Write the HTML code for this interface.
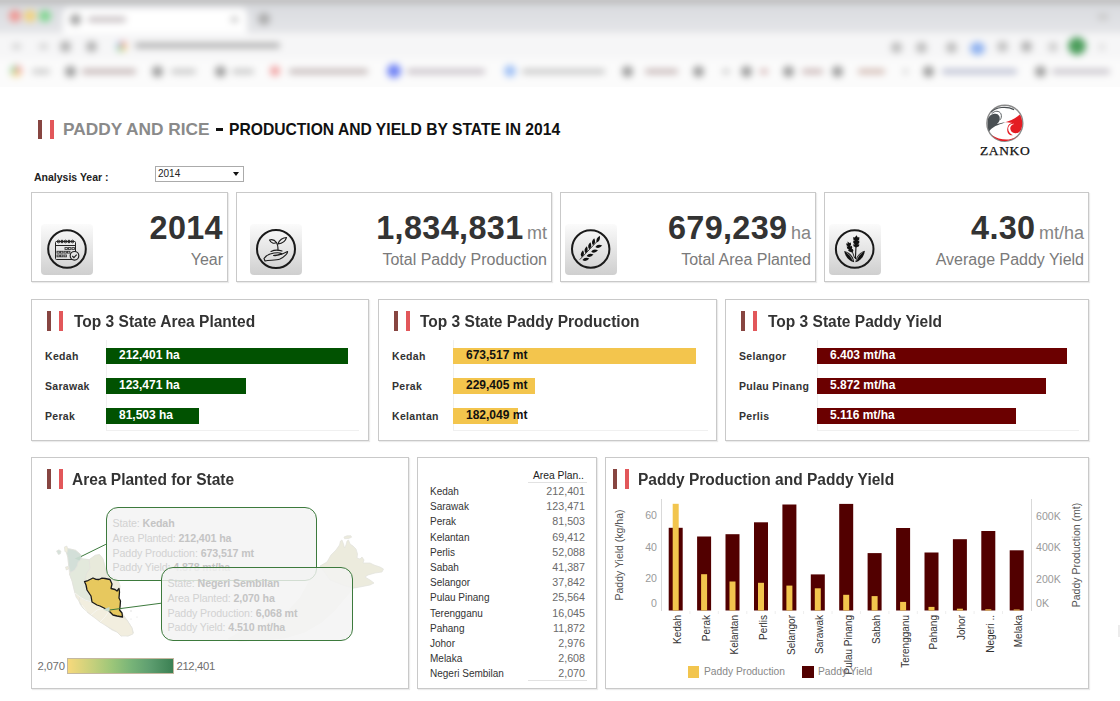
<!DOCTYPE html>
<html><head><meta charset="utf-8">
<style>
*{margin:0;padding:0;box-sizing:border-box}
html,body{width:1120px;height:701px;overflow:hidden;background:#fff;font-family:"Liberation Sans",sans-serif;position:relative}
.a{position:absolute}
.box{position:absolute;border:1px solid #c9c9c9;box-shadow:1px 1px 1px rgba(0,0,0,0.08);background:#fff}
.acc1{position:absolute;width:4px;background:#874541}
.acc2{position:absolute;width:4px;background:#e2575a}
.ttl{position:absolute;font-weight:bold;font-size:16px;color:#333;white-space:nowrap;line-height:1;transform:scaleX(0.97);transform-origin:0 0}
.num{position:absolute;font-weight:bold;font-size:32.4px;color:#333;letter-spacing:0.35px;white-space:nowrap;line-height:1;text-align:right}
.num span{font-weight:normal;font-size:18px;color:#858585;margin-left:3.5px;letter-spacing:0}
.sub{position:absolute;font-size:16px;color:#7a7a7a;white-space:nowrap;line-height:1;text-align:right}
.ico{position:absolute;width:52px;height:51px;border-radius:4px;background:linear-gradient(#fbfbfb,#cfcfcf)}
.lbl{position:absolute;font-weight:bold;font-size:10.5px;color:#333;white-space:nowrap;line-height:1}
.bar{position:absolute;height:15.5px}
.bt{position:absolute;font-weight:bold;font-size:12px;white-space:nowrap;line-height:1}
#chrome{position:absolute;left:0;top:0;width:1120px;height:87px;overflow:hidden;background:#fff}
#chrome .in{position:absolute;left:0;top:0;width:1120px;height:90px;filter:blur(3.6px)}
.g{position:absolute;background:#9a9a9a;border-radius:50%}
.t{position:absolute;background:#c4c4c4;height:5px;border-radius:2px}
.tip{border:1.2px solid #3d7a3d;border-radius:12px;background:rgba(243,243,243,0.82);padding:8px 0 0 5.5px;font-size:10.65px;line-height:14.8px;color:#d2d2d2;white-space:nowrap;letter-spacing:-0.1px}
.tip b{color:#c4c4c4}
.tbl{width:155px;font-size:10px;line-height:15.2px;color:#333}
.tbl div{position:relative;height:15.2px;white-space:nowrap}
.tbl i{font-style:normal;position:absolute;right:0;top:0;color:#6a6a6a;font-size:10.7px}
.lbl{letter-spacing:0.3px}
.ax{position:absolute;font-size:10.6px;color:#9a9a9a;line-height:12px;white-space:nowrap}
.axt{position:absolute;font-size:10.5px;color:#555;line-height:12px;white-space:nowrap;transform:translate(-50%,-50%) rotate(-90deg)}
.xl{position:absolute;font-size:10px;color:#333;line-height:12px;white-space:nowrap;transform-origin:0 0;transform:rotate(-90deg) translate(-100%,-6px)}
.lg{font-size:10.25px;color:#888;line-height:12px;white-space:nowrap}
</style></head><body>

<div id="chrome"><div class="in">
  <div class="a" style="left:-10px;top:-5px;width:1140px;height:9px;background:#bdbdbd"></div>
  <div class="a" style="left:-10px;top:4px;width:1140px;height:29px;background:linear-gradient(#d9dbdf,#e4e5e8)"></div>
  <div class="a" style="left:63px;top:8px;width:184px;height:27px;background:#fff;border-radius:6px 6px 0 0"></div>
  <div class="a" style="left:-10px;top:33px;width:1140px;height:26px;background:#f6f6f7"></div>
  <div class="a" style="left:-10px;top:59px;width:1140px;height:40px;background:#fbfbfb"></div>
  
  <!-- traffic lights -->
  <div class="g" style="left:9px;top:10px;width:12px;height:12px;background:#f09590"></div>
  <div class="g" style="left:24px;top:10px;width:12px;height:12px;background:#f2d27a"></div>
  <div class="g" style="left:39px;top:10px;width:12px;height:12px;background:#7fd68f"></div>
  <div class="g" style="left:70px;top:14px;width:11px;height:11px;background:#a0a0a0"></div>
  <div class="t" style="left:88px;top:17px;width:38px;background:#c0b8bb"></div>
  <div class="t" style="left:231px;top:17px;width:7px;background:#bbb"></div>
  <div class="g" style="left:258px;top:13px;width:12px;height:12px;background:#aaa"></div>
  <div class="a" style="left:1098px;top:14px;width:10px;height:6px;background:#c8c8c8"></div>
  <!-- toolbar -->
  <div class="t" style="left:12px;top:44px;width:9px;background:#ccc"></div>
  <div class="t" style="left:39px;top:44px;width:9px;background:#ccc"></div>
  <div class="g" style="left:60px;top:41px;width:11px;height:11px;background:#b0b0b0"></div>
  <div class="g" style="left:86px;top:41px;width:11px;height:11px;background:#b0b0b0"></div>
  <div class="g" style="left:116px;top:41px;width:11px;height:11px;background:conic-gradient(#ee9a90 0 25%,#f5dc90 0 50%,#9ed4a8 0 75%,#a9c4ee 0)"></div>
  <div class="t" style="left:135px;top:43px;width:145px;background:#a8a8a8"></div>
  <div class="g" style="left:891px;top:42px;width:11px;height:11px;background:#bbb"></div>
  <div class="g" style="left:916px;top:42px;width:11px;height:11px;background:#bbb"></div>
  <div class="g" style="left:946px;top:42px;width:11px;height:11px;background:#bbb"></div>
  <div class="g" style="left:970px;top:42px;width:15px;height:13px;background:#8fb2f0"></div>
  <div class="g" style="left:997px;top:41px;width:11px;height:11px;background:#c0c0c0"></div>
  <div class="g" style="left:1021px;top:41px;width:11px;height:11px;background:#b0b0b0"></div>
  <div class="g" style="left:1048px;top:42px;width:10px;height:10px;background:#ccc"></div>
  <div class="g" style="left:1068px;top:37px;width:18px;height:18px;background:#4c9e5c"></div>
  <div class="g" style="left:1099px;top:43px;width:6px;height:8px;background:#ddd"></div>
  <!-- bookmarks -->
  <div class="g" style="left:10px;top:65px;width:12px;height:12px;background:conic-gradient(#f2a0a0 0 33%,#f5d890 0 66%,#a0d8a8 0)"></div>
  <div class="t" style="left:32px;top:69px;width:18px;background:#c8c8c8"></div>
  <div class="g" style="left:65px;top:66px;width:11px;height:11px;background:#999"></div>
  <div class="t" style="left:82px;top:69px;width:54px;background:#c0b0b0"></div>
  <div class="g" style="left:152px;top:66px;width:11px;height:11px;background:#999"></div>
  <div class="t" style="left:171px;top:69px;width:25px;background:#c4c4c4"></div>
  <div class="g" style="left:215px;top:66px;width:11px;height:11px;background:#999"></div>
  <div class="t" style="left:232px;top:69px;width:22px;background:#c4c4c4"></div>
  <div class="g" style="left:270px;top:66px;width:10px;height:10px;background:#f0a0a0"></div>
  <div class="t" style="left:289px;top:69px;width:79px;background:#c0b4b4"></div>
  <div class="g" style="left:387px;top:64px;width:14px;height:14px;background:#7083f5"></div>
  <div class="t" style="left:407px;top:69px;width:78px;background:#c4bcc4"></div>
  <div class="g" style="left:504px;top:65px;width:12px;height:12px;background:#9fc0f5"></div>
  <div class="t" style="left:522px;top:69px;width:83px;background:#c4c4c4"></div>
  <div class="g" style="left:622px;top:66px;width:11px;height:11px;background:#999"></div>
  <div class="t" style="left:645px;top:69px;width:33px;background:#c4b4b4"></div>
  <div class="g" style="left:693px;top:66px;width:11px;height:11px;background:#999"></div>
  <div class="t" style="left:722px;top:69px;width:8px;background:#ccc"></div>
  <div class="g" style="left:741px;top:66px;width:11px;height:11px;background:#999"></div>
  <div class="t" style="left:760px;top:69px;width:8px;background:#d0b0b0"></div>
  <div class="g" style="left:783px;top:66px;width:11px;height:11px;background:#999"></div>
  <div class="t" style="left:802px;top:69px;width:21px;background:#c8b4b4"></div>
  <div class="g" style="left:832px;top:66px;width:11px;height:11px;background:#999"></div>
  <div class="t" style="left:858px;top:69px;width:27px;background:#d0b8b0"></div>
  <div class="t" style="left:903px;top:69px;width:5px;background:#ccc"></div>
  <div class="g" style="left:923px;top:66px;width:11px;height:11px;background:#999"></div>
  <div class="t" style="left:942px;top:69px;width:75px;background:#b8bcd0"></div>
  <div class="g" style="left:1035px;top:66px;width:11px;height:11px;background:#999"></div>
  <div class="t" style="left:1052px;top:69px;width:58px;background:#c4c0c8"></div>
</div></div>

<div class="a" style="left:1118px;top:625px;width:2px;height:12px;background:#ececec;filter:blur(0.6px)"></div>
<!-- header -->
<div class="acc1" style="left:38px;top:120px;height:19px"></div>
<div class="acc2" style="left:50px;top:120px;height:19px"></div>
<div class="a" style="left:63px;top:121px;font-weight:bold;font-size:17.3px;color:#8a8a8a;white-space:nowrap;line-height:1">PADDY AND RICE</div>
<div class="a" style="left:216px;top:128px;width:7px;height:3px;background:#111"></div>
<div class="a" style="left:229px;top:121.5px;font-weight:bold;font-size:15.65px;color:#111;white-space:nowrap;line-height:1">PRODUCTION AND YIELD BY STATE IN 2014</div>

<div class="a" style="left:34px;top:172px;font-weight:bold;font-size:10.5px;color:#222;white-space:nowrap;line-height:1">Analysis Year :</div>
<div class="a" style="left:155px;top:166px;width:89px;height:16px;border:1px solid #ababab;background:#fff"></div>
<div class="a" style="left:158px;top:168.5px;font-size:10px;color:#222;line-height:1">2014</div>
<div class="a" style="left:233px;top:172px;width:0;height:0;border-left:3px solid transparent;border-right:3px solid transparent;border-top:4px solid #111"></div>

<!-- logo -->
<svg class="a" style="left:982px;top:100px" width="45" height="45" viewBox="0 0 701 701">
 <circle cx="356" cy="362" r="280" fill="#fff" stroke="#8a8a8a" stroke-width="22"/>
 <path d="M140,190 C220,110 380,90 500,150" fill="none" stroke="#4a4f52" stroke-width="18"/>
 <path d="M150,215 C200,160 270,165 295,215 C310,250 300,290 280,310" fill="none" stroke="#4a4f52" stroke-width="14"/>
 <path d="M92,300 C110,240 160,215 210,215 C260,218 285,260 275,310 C268,340 245,360 232,372 C280,360 320,350 362,345 C300,372 250,385 210,405 C170,425 130,460 108,492 C88,440 82,360 92,300 Z" fill="#4a5053"/>
 <path d="M362,345 C430,335 520,290 590,225 C630,290 640,380 610,460 C590,500 560,520 520,518 C470,515 440,480 440,440 C440,400 470,380 500,372 C450,370 420,395 410,430 C400,480 430,530 480,550 C400,560 380,480 400,420 C410,390 430,365 470,355 C430,350 400,350 362,345 Z" fill="#e41c23"/>
 <path d="M150,545 C230,600 330,625 420,615 C490,605 540,580 570,545 C520,600 440,640 350,640 C270,640 200,600 150,545 Z" fill="#e41c23"/>
</svg>
<div class="a" style="left:980px;top:144px;font-family:'Liberation Serif',serif;font-size:13.5px;color:#111;line-height:1;letter-spacing:0.6px;-webkit-text-stroke:0.25px #111">ZANKO</div>

<!-- KPI boxes -->
<div class="box" style="left:31px;top:192px;width:197px;height:90px"></div>
<div class="box" style="left:236px;top:192px;width:316px;height:90px"></div>
<div class="box" style="left:560px;top:192px;width:256px;height:90px"></div>
<div class="box" style="left:824px;top:192px;width:265px;height:90px"></div>

<div class="ico" style="left:41px;top:224px"></div>
<div class="ico" style="left:250px;top:224px"></div>
<div class="ico" style="left:565px;top:224px"></div>
<div class="ico" style="left:829px;top:224px"></div>

<div class="num" style="right:897px;top:211.8px">2014</div>
<div class="sub" style="right:897px;top:251.5px">Year</div>
<div class="num" style="right:573px;top:211.8px">1,834,831<span>mt</span></div>
<div class="sub" style="right:573px;top:251.5px">Total Paddy Production</div>
<div class="num" style="right:309px;top:211.8px">679,239<span>ha</span></div>
<div class="sub" style="right:309px;top:251.5px">Total Area Planted</div>
<div class="num" style="right:36px;top:211.8px">4.30<span>mt/ha</span></div>
<div class="sub" style="right:36px;top:251.5px">Average Paddy Yield</div>


<svg class="a" style="left:41px;top:224px" width="52" height="51" viewBox="41 224 52 51">
 <circle cx="67" cy="249" r="18.8" fill="none" stroke="#1a1a1a" stroke-width="2"/>
 <g fill="none" stroke="#222" stroke-width="1">
  <rect x="55.5" y="241.5" width="20" height="18" rx="1"/>
  <line x1="55.5" y1="245.5" x2="75.5" y2="245.5"/>
  <circle cx="58.5" cy="241.5" r="1.3"/><circle cx="62" cy="241.5" r="1.3"/><circle cx="65.5" cy="241.5" r="1.3"/><circle cx="69" cy="241.5" r="1.3"/><circle cx="72.5" cy="241.5" r="1.3"/>
 </g>
 <g fill="none" stroke="#333" stroke-width="0.9">
  <rect x="65" y="247.6" width="2.4" height="1.8"/><rect x="68.5" y="247.6" width="2.4" height="1.8"/><rect x="72" y="247.6" width="2.4" height="1.8"/>
  <rect x="57" y="251.3" width="2.4" height="1.8"/><rect x="60.5" y="251.3" width="2.4" height="1.8"/><rect x="64" y="251.3" width="2.4" height="1.8"/><rect x="67.5" y="251.3" width="2.4" height="1.8"/>
  <rect x="57" y="255" width="2.4" height="1.8"/><rect x="60.5" y="255" width="2.4" height="1.8"/><rect x="64" y="255" width="2.4" height="1.8"/>
 </g>
 <circle cx="74.5" cy="255.8" r="4.3" fill="#e6e6e6" stroke="#222" stroke-width="1.2"/>
 <path d="M72.3,256 l1.6,1.6 2.8,-3" fill="none" stroke="#222" stroke-width="1.2"/>
</svg>
<svg class="a" style="left:250px;top:224px" width="52" height="51" viewBox="250 224 52 51">
 <circle cx="276" cy="249" r="19" fill="none" stroke="#1a1a1a" stroke-width="2"/>
 <g fill="none" stroke="#1a1a1a" stroke-width="1.1" stroke-linejoin="round" stroke-linecap="round">
  <path d="M278,250 C278,246 277.5,244 276.5,242.5"/>
  <path d="M276.5,242.5 C274,239 271,239.5 269.5,240 C271,243 274,244 276.5,242.5 Z"/>
  <path d="M278,244 C279,240 283,237.5 286.5,237.5 C285.5,241 282,243.5 278,244 Z"/>
  <path d="M264,258.5 C266,255.5 270,253.5 274,253 C277,252.6 280,252.6 281.5,253.5 C280,255 276,255.2 273.5,255.5 C277,256 282,254.5 287.5,251.5 C288,253 285,256.5 280,259 C276,260.5 270,260 265,261 Z"/>
  <path d="M271,251.5 C274,250 279,250 282,251"/>
 </g>
</svg>
<svg class="a" style="left:565px;top:224px" width="52" height="51" viewBox="565 224 52 51">
 <circle cx="590.7" cy="249" r="18.7" fill="none" stroke="#1a1a1a" stroke-width="2"/>
 <path d="M579.8,259.6 L597.5,241" stroke="#111" stroke-width="0.8"/>
 <g fill="#111"><path d="M581.79,257.05 Q585.40,254.74 583.01,250.15 Q579.19,253.64 581.79,257.05 Z"/><path d="M585.59,253.25 Q589.20,250.94 586.81,246.35 Q582.99,249.84 585.59,253.25 Z"/><path d="M589.19,249.25 Q592.80,246.94 590.41,242.35 Q586.59,245.84 589.19,249.25 Z"/><path d="M592.99,245.25 Q596.60,242.94 594.21,238.35 Q590.39,241.84 592.99,245.25 Z"/><path d="M596.74,242.55 Q600.77,241.01 599.86,235.85 Q595.33,238.48 596.74,242.55 Z"/><path d="M582.48,259.93 Q585.97,262.41 589.32,258.47 Q584.66,256.24 582.48,259.93 Z"/><path d="M586.68,255.93 Q590.17,258.41 593.52,254.47 Q588.86,252.24 586.68,255.93 Z"/><path d="M591.18,251.83 Q594.67,254.31 598.02,250.37 Q593.36,248.14 591.18,251.83 Z"/><path d="M595.38,246.93 Q598.87,249.41 602.22,245.47 Q597.56,243.24 595.38,246.93 Z"/></g>
</svg>
<svg class="a" style="left:829px;top:224px" width="52" height="51" viewBox="829 224 52 51">
 <circle cx="854.7" cy="249" r="18.8" fill="none" stroke="#1a1a1a" stroke-width="2"/>
 <g fill="#111">
  <path d="M844.2,251 C849.5,252 853.5,256 854.2,262.3 C849,261 845,256.5 844.2,251 Z"/>
  <path d="M864.9,250.7 C860,252 856,256 855.4,262.3 C860.5,261 864.2,256.5 864.9,250.7 Z"/>
  <path d="M856,246 L855.4,259" stroke="#111" stroke-width="1.1" fill="none"/>
  <path d="M851,248 L854.6,258" stroke="#111" stroke-width="0.9" fill="none"/>
  <path d="M856.5,235.3 L857.8,237.5 859.3,237 859.3,239.5 857.5,241 859.3,240.6 859.3,243 857.5,244.5 859.3,244.2 859,246.3 856.2,247.5 853.5,246.3 853.3,244.2 855,244.5 853.3,243 853.3,240.6 855,241 853.3,239.5 853.3,237 854.8,237.5 Z"/>
  <path d="M847.6,241.5 l1.8,1.4 1.4,-0.3 0.3,2.2 -1.2,1.6 1.8,-0.7 0.6,2.2 -1.2,1.6 1.8,-0.6 0.5,2 -1.5,1.5 -2.6,-0.8 -1.5,-1.6 1.3,-0.2 -1.9,-1.3 -0.5,-2.2 1.6,0.5 -1.8,-1.5 -0.3,-2.1 1.4,0.5 z"/>
 </g>
 <path d="M846.5,252.5 C849.5,254.5 851.5,257 852.8,260.5" stroke="#ddd" stroke-width="0.6" fill="none"/>
 <path d="M862.6,252.2 C859.6,254.5 857.6,257 856.5,260.5" stroke="#ddd" stroke-width="0.6" fill="none"/>
</svg>

<!-- Top 3 boxes -->
<div class="box" style="left:31px;top:299px;width:338px;height:142px"></div>
<div class="box" style="left:378px;top:299px;width:339px;height:142px"></div>
<div class="box" style="left:725px;top:299px;width:364px;height:142px"></div>

<div class="acc1" style="left:47px;top:311px;height:20px"></div>
<div class="acc2" style="left:59px;top:311px;height:20px"></div>
<div class="ttl" style="left:74px;top:314px">Top 3 State Area Planted</div>
<div class="a" style="left:106px;top:340px;width:1px;height:91px;background:#f0f0f0"></div>
<div class="a" style="left:106px;top:430px;width:253px;height:1px;background:#f0f0f0"></div>
<div class="lbl" style="left:45px;top:351px">Kedah</div>
<div class="lbl" style="left:45px;top:381px">Sarawak</div>
<div class="lbl" style="left:45px;top:411px">Perak</div>
<div class="bar" style="left:106px;top:348px;width:242px;background:#015201"></div>
<div class="bar" style="left:106px;top:378px;width:140px;background:#015201"></div>
<div class="bar" style="left:106px;top:408px;width:93px;background:#015201"></div>
<div class="bt" style="left:119px;top:349px;color:#fff">212,401 ha</div>
<div class="bt" style="left:119px;top:379px;color:#fff">123,471 ha</div>
<div class="bt" style="left:119px;top:409px;color:#fff">81,503 ha</div>

<div class="acc1" style="left:394px;top:311px;height:20px"></div>
<div class="acc2" style="left:406px;top:311px;height:20px"></div>
<div class="ttl" style="left:420px;top:314px">Top 3 State Paddy Production</div>
<div class="a" style="left:453px;top:340px;width:1px;height:91px;background:#f0f0f0"></div>
<div class="a" style="left:453px;top:430px;width:255px;height:1px;background:#f0f0f0"></div>
<div class="lbl" style="left:392px;top:351px">Kedah</div>
<div class="lbl" style="left:392px;top:381px">Perak</div>
<div class="lbl" style="left:392px;top:411px">Kelantan</div>
<div class="bar" style="left:453px;top:348px;width:243px;background:#f3c54d"></div>
<div class="bar" style="left:453px;top:378px;width:82px;background:#f3c54d"></div>
<div class="bar" style="left:453px;top:408px;width:65px;background:#f3c54d"></div>
<div class="bt" style="left:466px;top:349px;color:#111">673,517 mt</div>
<div class="bt" style="left:466px;top:379px;color:#111">229,405 mt</div>
<div class="bt" style="left:466px;top:409px;color:#111">182,049 mt</div>

<div class="acc1" style="left:741px;top:311px;height:20px"></div>
<div class="acc2" style="left:753px;top:311px;height:20px"></div>
<div class="ttl" style="left:768px;top:314px">Top 3 State Paddy Yield</div>
<div class="a" style="left:817px;top:340px;width:1px;height:91px;background:#f0f0f0"></div>
<div class="a" style="left:817px;top:430px;width:262px;height:1px;background:#f0f0f0"></div>
<div class="lbl" style="left:739px;top:351px">Selangor</div>
<div class="lbl" style="left:739px;top:381px">Pulau Pinang</div>
<div class="lbl" style="left:739px;top:411px">Perlis</div>
<div class="bar" style="left:817px;top:348px;width:250px;background:#6b0000"></div>
<div class="bar" style="left:817px;top:378px;width:229px;background:#6b0000"></div>
<div class="bar" style="left:817px;top:408px;width:199px;background:#6b0000"></div>
<div class="bt" style="left:830px;top:349px;color:#fff">6.403 mt/ha</div>
<div class="bt" style="left:830px;top:379px;color:#fff">5.872 mt/ha</div>
<div class="bt" style="left:830px;top:409px;color:#fff">5.116 mt/ha</div>

<!-- bottom row -->
<div class="box" style="left:31px;top:457px;width:378px;height:232px"></div>
<div class="box" style="left:417px;top:457px;width:180px;height:232px"></div>
<div class="box" style="left:605px;top:457px;width:484px;height:232px"></div>

<div class="acc1" style="left:47px;top:469px;height:20px"></div>
<div class="acc2" style="left:59px;top:469px;height:20px"></div>
<div class="ttl" style="left:72px;top:472.2px">Area Planted for State</div>

<svg class="a" style="left:31px;top:457px" width="378" height="232" viewBox="31 457 378 232">
 <g stroke="#e2e2dc" stroke-width="0.7" stroke-linejoin="round">
  <path d="M65.3,548.6 L70,549 L75.5,550.3 L80.7,554.6 L81.5,558.8 L89.2,559.7 L95.2,555.4 L99.5,554.6 L102.9,558.8 L104.7,565.7 L106.4,574.2 L110.7,577.5 L114,577 L118.5,581 L120.2,586 L119.5,592 L119,598 L120.5,601 L120,607 L122,613 L127,620 L132,628 L133.5,633 L131,634.5 L128,636 L124,635 L121,636 L117,632 L112,630 L108,627 L104,623.5 L100,622 L96,618 L91,615 L87,612 L83,608 L80,604 L79,601 L76,597 L75,593 L73.5,587 L72.1,581.1 L69.6,574.2 L68.7,565.7 L67.8,557.1 Z" fill="#efecdd"/>
  <path d="M92,602 L97,605 L104,608 L109,611 L113,615 L117,616 L122.5,617 L127,620 L132,628 L133,634 L128,636 L121,636 L117,632 L108,627 L100,622 L91,615 L83,608 L79,601 L80,597 L85,600 Z" fill="#f2eedf"/>
  <path d="M70.4,572.5 L74.7,570 L77.3,565.7 L78.1,562.3 L81.5,558.8 L89.2,559.7 L90.1,568.3 L86.7,573.4 L84.5,581.5 L86,585 L87,590 L91,596 L92,602 L85,600 L80,597 L75,593 L72.1,581.1 L69.6,574.2 Z" fill="#e3e9dc"/>
  <path d="M89.2,559.7 L95.2,555.4 L99.5,554.6 L102.9,558.8 L104.7,565.7 L106.4,574.2 L110.7,580.2 L110,579.5 L105,578.5 L99,579.5 L93,578 L91,579 L84.5,581.5 L86.7,573.4 L90.1,568.3 Z" fill="#e8eadb"/>
  <path d="M65.3,548.6 L70,549 L75.5,550.3 L80.7,554.6 L81.5,558.8 L78.1,562.3 L77.3,565.7 L74.7,570 L70.4,572.5 L68.7,565.7 L67.8,557.1 Z" fill="#d3dfd8"/>
  <path d="M56.5,551 l2.5,-1.2 2,1.5 -0.8,2.6 -1.8,0.6 z" fill="#d6e1da"/>
  <path d="M64.4,547 l2.4,-1 1,3 -0.6,3.5 -2.3,-1 z" fill="#f0eedc"/>
  <path d="M65.5,567 l2.5,-0.5 0.7,2.5 -2.3,1 z" fill="#efecdc"/>
  <path d="M75,593 L80,597 85,600 92,602 M91,615 L97,610 104,608 M100,622 L105,617 109,611 M87,612 L82,605" fill="none" stroke="#f7f7f2" stroke-width="0.8"/>
  <path d="M319.9,567 L330,580 345,586 353.8,588 345,598 335,610 322,622 305,632 285,638 262,640 240,641 228,639 240,632 262,626 285,614 300,598 310,580 Z" fill="#f5f4ee" stroke="#efefe9"/>
  <path d="M320,566 L327,562 L331,555 L336,550 L339.5,545 L340.5,541 L342,540 L343.5,544 L344.5,548 L346,545 L347,541 L348.5,540 L350,544 L353,546 L356,549 L357.5,554 L357,558 L360,559 L362,557 L364,560 L363,563 L370,563 L374,565 L380,567 L383.5,569 L382,572 L375,573 L368,575 L365,577 L370,580 L374,583 L370,585 L360,587 L354,588 L345,586 L330,580 Z" fill="#ecebdd"/><path d="M344,537 l3,-1.2 4,0 0.5,1.5 -3,1.2 -4,0.2 z" fill="#ecebdd"/>
 </g>
 <circle cx="131" cy="611" r="0.8" fill="#ddd"/><circle cx="137" cy="617" r="0.6" fill="#ddd"/><circle cx="131" cy="619" r="0.6" fill="#ddd"/>
 <path d="M84.5,581.5 L88,580.5 L91,579 L93,578 L96,579.3 L99,579.5 L102,578.2 L105,578.5 L110,579.5 L112,584 L111,588.5 L115,589.5 L117,591 L119,588.5 L119.5,592 L119,598 L120.5,601 L120,607 L119.5,610 L122,613 L122.5,617 L117,616 L113,615 L109,611 L104,608 L100,606 L97,605 L92,602 L91,596 L87,590 L86,585 Z" fill="#e7c85e" stroke="#1a1a1a" stroke-width="1.3" stroke-linejoin="round"/>
 <path d="M80.7,556.7 L105.9,544.3" stroke="#3d7a3d" stroke-width="1" fill="none"/>
 <path d="M109.5,610 L161.3,603.2" stroke="#3d7a3d" stroke-width="1" fill="none"/>
 <path d="M74.7,558.5 L81.5,555.5 79.5,560.5 Z" fill="#c5d9cc"/>
 <path d="M103,609.5 L109.5,607 109.5,612 Z" fill="#c5d9cc"/>
</svg>

<div class="a tip" style="left:106px;top:507px;width:211px;height:74px">
  <div><span>State: </span><b>Kedah</b></div>
  <div><span>Area Planted: </span><b>212,401 ha</b></div>
  <div><span>Paddy Production: </span><b>673,517 mt</b></div>
  <div><span>Paddy Yield: </span><b>4.878 mt/ha</b></div>
</div>
<div class="a tip" style="left:161px;top:567px;width:192px;height:74px">
  <div><span>State: </span><b>Negeri Sembilan</b></div>
  <div><span>Area Planted: </span><b>2,070 ha</b></div>
  <div><span>Paddy Production: </span><b>6,068 mt</b></div>
  <div><span>Paddy Yield: </span><b>4.510 mt/ha</b></div>
</div>

<div class="a" style="left:37.5px;top:660.5px;font-size:11.3px;color:#6e6e6e;line-height:1;letter-spacing:-0.2px">2,070</div>
<div class="a" style="left:67px;top:658px;width:107px;height:16px;border:1px solid #c4b8a0;background:linear-gradient(90deg,#f7d97c,#c2cf7c 25%,#9cc679 42%,#78b478 60%,#5e9e70 78%,#3b8053)"></div>
<div class="a" style="left:176.5px;top:660.5px;font-size:11.3px;color:#6e6e6e;line-height:1;letter-spacing:-0.35px">212,401</div>

<!-- table -->
<div class="a" style="left:533px;top:471px;font-size:10.3px;color:#222;line-height:1">Area Plan..</div>
<div class="a" style="left:528px;top:482px;width:59px;height:1px;background:#e2e2e2"></div>
<div class="a" style="left:528px;top:680px;width:59px;height:1px;background:#e2e2e2"></div>
<div class="a tbl" style="left:430px;top:484px">
<div>Kedah<i>212,401</i></div><div>Sarawak<i>123,471</i></div><div>Perak<i>81,503</i></div><div>Kelantan<i>69,412</i></div><div>Perlis<i>52,088</i></div><div>Sabah<i>41,387</i></div><div>Selangor<i>37,842</i></div><div>Pulau Pinang<i>25,564</i></div><div>Terengganu<i>16,045</i></div><div>Pahang<i>11,872</i></div><div>Johor<i>2,976</i></div><div>Melaka<i>2,608</i></div><div>Negeri Sembilan<i>2,070</i></div>
</div>
<div class="acc1" style="left:613px;top:469px;height:20px"></div>
<div class="acc2" style="left:625px;top:469px;height:20px"></div>
<div class="ttl" style="left:638px;top:472.4px">Paddy Production and Paddy Yield</div>
<svg class="a" style="left:605px;top:457px" width="484" height="232" viewBox="605 457 484 232">
<line x1="661.5" y1="499" x2="661.5" y2="611" stroke="#d9d9d9" stroke-width="1"/>
<line x1="1031.5" y1="499" x2="1031.5" y2="611" stroke="#d9d9d9" stroke-width="1"/>
<rect x="668.7" y="527.8" width="14" height="82.7" fill="#520000"/>
<rect x="672.7" y="503.8" width="6" height="106.7" fill="#f2c54e"/>
<rect x="697.1" y="536.5" width="14" height="74.0" fill="#520000"/>
<rect x="701.1" y="574.2" width="6" height="36.3" fill="#f2c54e"/>
<line x1="689.9" y1="611" x2="689.9" y2="614" stroke="#eeeeee" stroke-width="1"/>
<rect x="725.5" y="534.2" width="14" height="76.3" fill="#520000"/>
<rect x="729.5" y="581.5" width="6" height="29.0" fill="#f2c54e"/>
<line x1="718.3" y1="611" x2="718.3" y2="614" stroke="#eeeeee" stroke-width="1"/>
<rect x="754.0" y="522.3" width="14" height="88.2" fill="#520000"/>
<rect x="758.0" y="582.8" width="6" height="27.7" fill="#f2c54e"/>
<line x1="746.8" y1="611" x2="746.8" y2="614" stroke="#eeeeee" stroke-width="1"/>
<rect x="782.4" y="504.5" width="14" height="106.0" fill="#520000"/>
<rect x="786.4" y="585.6" width="6" height="24.9" fill="#f2c54e"/>
<line x1="775.2" y1="611" x2="775.2" y2="614" stroke="#eeeeee" stroke-width="1"/>
<rect x="810.8" y="574.4" width="14" height="36.1" fill="#520000"/>
<rect x="814.8" y="588.3" width="6" height="22.2" fill="#f2c54e"/>
<line x1="803.6" y1="611" x2="803.6" y2="614" stroke="#eeeeee" stroke-width="1"/>
<rect x="839.2" y="503.9" width="14" height="106.6" fill="#520000"/>
<rect x="843.2" y="594.8" width="6" height="15.7" fill="#f2c54e"/>
<line x1="832.0" y1="611" x2="832.0" y2="614" stroke="#eeeeee" stroke-width="1"/>
<rect x="867.6" y="553.1" width="14" height="57.4" fill="#520000"/>
<rect x="871.6" y="596.1" width="6" height="14.4" fill="#f2c54e"/>
<line x1="860.4" y1="611" x2="860.4" y2="614" stroke="#eeeeee" stroke-width="1"/>
<rect x="896.1" y="528.0" width="14" height="82.5" fill="#520000"/>
<rect x="900.1" y="601.9" width="6" height="8.6" fill="#f2c54e"/>
<line x1="888.9" y1="611" x2="888.9" y2="614" stroke="#eeeeee" stroke-width="1"/>
<rect x="924.5" y="552.5" width="14" height="58.0" fill="#520000"/>
<rect x="928.5" y="606.9" width="6" height="3.6" fill="#f2c54e"/>
<line x1="917.3" y1="611" x2="917.3" y2="614" stroke="#eeeeee" stroke-width="1"/>
<rect x="952.9" y="539.2" width="14" height="71.3" fill="#520000"/>
<rect x="956.9" y="608.7" width="6" height="1.8" fill="#f2c54e"/>
<line x1="945.7" y1="611" x2="945.7" y2="614" stroke="#eeeeee" stroke-width="1"/>
<rect x="981.3" y="531.0" width="14" height="79.5" fill="#520000"/>
<rect x="985.3" y="609.3" width="6" height="1.2" fill="#f2c54e"/>
<line x1="974.1" y1="611" x2="974.1" y2="614" stroke="#eeeeee" stroke-width="1"/>
<rect x="1009.7" y="550.3" width="14" height="60.2" fill="#520000"/>
<rect x="1013.7" y="609.5" width="6" height="1.0" fill="#f2c54e"/>
<line x1="1002.5" y1="611" x2="1002.5" y2="614" stroke="#eeeeee" stroke-width="1"/>
</svg>
<div class="ax" style="right:463px;top:508.8px">60</div>
<div class="ax" style="right:463px;top:540.8px">40</div>
<div class="ax" style="right:463px;top:572.3px">20</div>
<div class="ax" style="right:463px;top:596.7px">0</div>
<div class="ax" style="left:1036px;top:510.0px">600K</div>
<div class="ax" style="left:1036px;top:541.1px">400K</div>
<div class="ax" style="left:1036px;top:573.0px">200K</div>
<div class="ax" style="left:1036px;top:596.8px">0K</div>
<div class="axt" style="left:618.7px;top:554.7px">Paddy Yield (kg/ha)</div>
<div class="axt" style="left:1076px;top:555px">Paddy Production (mt)</div>
<div class="xl" style="left:678.2px;top:615px">Kedah</div>
<div class="xl" style="left:706.6px;top:615px">Perak</div>
<div class="xl" style="left:735.0px;top:615px">Kelantan</div>
<div class="xl" style="left:763.5px;top:615px">Perlis</div>
<div class="xl" style="left:791.9px;top:615px">Selangor</div>
<div class="xl" style="left:820.3px;top:615px">Sarawak</div>
<div class="xl" style="left:848.7px;top:615px">Pulau Pinang</div>
<div class="xl" style="left:877.1px;top:615px">Sabah</div>
<div class="xl" style="left:905.6px;top:615px">Terengganu</div>
<div class="xl" style="left:934.0px;top:615px">Pahang</div>
<div class="xl" style="left:962.4px;top:615px">Johor</div>
<div class="xl" style="left:990.8px;top:615px">Negeri ..</div>
<div class="xl" style="left:1019.2px;top:615px">Melaka</div>
<div class="a" style="left:688px;top:666px;width:11px;height:12px;background:#f2c54e"></div>
<div class="a lg" style="left:704px;top:666px">Paddy Production</div>
<div class="a" style="left:802px;top:666px;width:12px;height:12px;background:#520000"></div>
<div class="a lg" style="left:818px;top:666px">Paddy Yield</div>


</body></html>
